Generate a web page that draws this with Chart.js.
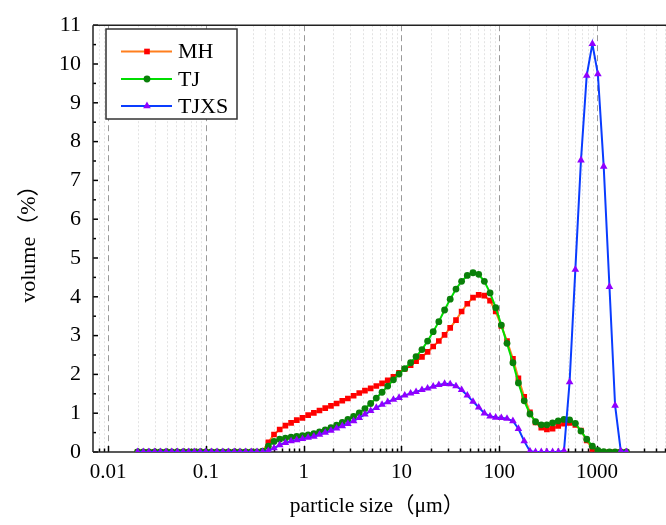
<!DOCTYPE html>
<html>
<head>
<meta charset="utf-8">
<script src="https://cdn.jsdelivr.net/npm/chart.js@4.4.1/dist/chart.umd.min.js"></script>
<style>
  html, body { margin: 0; padding: 0; background: #fff; overflow: hidden; }
  #wrap { width: 690px; height: 525px; }
</style>
</head>
<body>
<div id="wrap"><canvas id="psd" width="690" height="525"></canvas></div>
<script>
// particle size classes (um)
var sizes = [
    0.0200, 0.0229, 0.0261, 0.0299, 0.0342, 0.0391, 0.0447, 0.0511, 0.0584, 0.0667,
    0.0763, 0.0872, 0.0997, 0.114, 0.130, 0.149, 0.170, 0.195, 0.223, 0.255,
    0.291, 0.333, 0.380, 0.435, 0.497, 0.568, 0.650, 0.743, 0.849, 0.971,
    1.11, 1.27, 1.45, 1.66, 1.90, 2.17, 2.48, 2.83, 3.24, 3.70,
    4.23, 4.84, 5.53, 6.33, 7.23, 8.27, 9.45, 10.8, 12.4, 14.1,
    16.2, 18.5, 21.1, 24.1, 27.6, 31.5, 36.1, 41.2, 47.1, 53.9,
    61.6, 70.4, 80.5, 92.0, 105, 120, 138, 157, 180, 206,
    235, 269, 307, 351, 401, 459, 524, 600, 685, 784,
    896, 1020, 1170, 1340, 1530, 1750, 2000
];

var mh = [
    0, 0, 0, 0, 0, 0, 0, 0, 0, 0,
    0, 0, 0, 0, 0, 0, 0, 0, 0, 0,
    0, 0, 0.02, 0.25, 0.45, 0.58, 0.68, 0.75, 0.82, 0.88,
    0.95, 1.01, 1.07, 1.13, 1.19, 1.25, 1.32, 1.38, 1.45, 1.52,
    1.58, 1.64, 1.70, 1.77, 1.85, 1.94, 2.04, 2.14, 2.24, 2.34,
    2.45, 2.58, 2.72, 2.86, 3.02, 3.20, 3.40, 3.62, 3.82, 3.98,
    4.05, 4.03, 3.90, 3.62, 3.25, 2.86, 2.40, 1.90, 1.42, 1.02,
    0.76, 0.63, 0.58, 0.60, 0.67, 0.73, 0.75, 0.70, 0.55, 0.30,
    0.08, 0.01, 0, 0, 0, 0, 0
];

var tj = [
    0, 0, 0, 0, 0, 0, 0, 0, 0, 0,
    0, 0, 0, 0, 0, 0, 0, 0, 0, 0,
    0, 0, 0.02, 0.15, 0.27, 0.33, 0.36, 0.38, 0.40, 0.42,
    0.44, 0.47, 0.52, 0.57, 0.63, 0.69, 0.76, 0.84, 0.92, 1.01,
    1.12, 1.25, 1.39, 1.54, 1.70, 1.86, 2.01, 2.15, 2.30, 2.46,
    2.64, 2.86, 3.10, 3.36, 3.66, 3.94, 4.20, 4.40, 4.55, 4.62,
    4.58, 4.40, 4.10, 3.72, 3.27, 2.80, 2.30, 1.78, 1.32, 0.98,
    0.78, 0.70, 0.70, 0.75, 0.80, 0.84, 0.83, 0.74, 0.54, 0.33,
    0.15, 0.04, 0.01, 0, 0, 0, 0
];

var tjxs = [
    0, 0, 0, 0, 0, 0, 0, 0, 0, 0,
    0, 0, 0, 0, 0, 0, 0, 0, 0, 0,
    0, 0, 0, 0.03, 0.10, 0.18, 0.24, 0.28, 0.31, 0.34,
    0.37, 0.40, 0.45, 0.50, 0.55, 0.61, 0.67, 0.73, 0.80, 0.88,
    0.97, 1.06, 1.14, 1.22, 1.29, 1.35, 1.40, 1.46, 1.51, 1.55,
    1.60, 1.64, 1.69, 1.73, 1.76, 1.75, 1.70, 1.60, 1.46, 1.30,
    1.15, 1.00, 0.92, 0.89, 0.88, 0.86, 0.80, 0.60, 0.28, 0.02,
    0, 0, 0, 0, 0, 0.03, 1.80, 4.70, 7.52, 9.70,
    10.52, 9.74, 7.36, 4.26, 1.20, 0.02, 0
];

var xMajor = [0.01, 0.1, 1, 10, 100, 1000];
var xTickLabels = ['0.01', '0.1', '1', '10', '100', '1000'];
var yMajor = [0, 1, 2, 3, 4, 5, 6, 7, 8, 9, 10, 11];

var X_MIN = 0.007, X_MAX = 8050;
var SERIF = '"Liberation Serif", "Times New Roman", "Noto Sans CJK SC", serif';

var xMinor = [];
[-3, -2, -1, 0, 1, 2, 3].forEach(function (k) {
    for (var m = 2; m <= 9; m++) {
        var v = m * Math.pow(10, k);
        if (v > X_MIN && v < X_MAX) xMinor.push(v);
    }
});
var yMinor = [];
for (var h = 0.5; h < 11; h += 1) yMinor.push(h);

function points(ys) {
    return sizes.map(function (s, i) { return { x: s, y: ys[i] }; });
}

function strokeLine(ctx, x1, y1, x2, y2) {
    ctx.beginPath();
    ctx.moveTo(x1, y1);
    ctx.lineTo(x2, y2);
    ctx.stroke();
}

var framePlugin = {
    id: 'framePlugin',
    beforeDatasetsDraw: function (chart) {
        var ctx = chart.ctx, a = chart.chartArea;
        var xs = chart.scales.x, ys = chart.scales.y;
        ctx.save();
        ctx.lineWidth = 1;
        ctx.strokeStyle = '#e3e3e3';
        ctx.setLineDash([2, 2]);
        xMinor.forEach(function (v) {
            var px = Math.round(xs.getPixelForValue(v)) + 0.5;
            strokeLine(ctx, px, a.top, px, a.bottom);
        });
        ctx.strokeStyle = '#9a9a9a';
        ctx.setLineDash([6, 4]);
        xMajor.forEach(function (v) {
            var px = Math.round(xs.getPixelForValue(v)) + 0.5;
            strokeLine(ctx, px, a.top, px, a.bottom);
        });
        ctx.setLineDash([]);
        ctx.strokeStyle = '#000';
        ctx.lineWidth = 1.5;
        xMajor.forEach(function (v) {
            var px = Math.round(xs.getPixelForValue(v)) + 0.5;
            strokeLine(ctx, px, a.bottom, px, a.bottom - 6);
        });
        xMinor.forEach(function (v) {
            var px = Math.round(xs.getPixelForValue(v)) + 0.5;
            strokeLine(ctx, px, a.bottom, px, a.bottom - 3.5);
        });
        yMajor.forEach(function (v) {
            var py = ys.getPixelForValue(v);
            strokeLine(ctx, a.left, py, a.left + 5, py);
        });
        yMinor.forEach(function (v) {
            var py = ys.getPixelForValue(v);
            strokeLine(ctx, a.left, py, a.left + 3, py);
        });
        ctx.strokeStyle = '#222';
        strokeLine(ctx, a.left, a.top, a.right, a.top);
        strokeLine(ctx, a.left, a.top, a.left, a.bottom);
        strokeLine(ctx, a.left, a.bottom, a.right, a.bottom);
        ctx.restore();
    },
    afterDraw: function (chart) {
        var ctx = chart.ctx;
        ctx.save();
        ctx.fillStyle = '#000';
        ctx.font = '21.5px ' + SERIF;
        ctx.textAlign = 'center';
        ctx.textBaseline = 'middle';
        ctx.fillText('particle size\uff08\u03bcm\uff09', 377, 506);
        ctx.restore();
    }
};

// boxed legend with line + marker samples
var legendPlugin = {
    id: 'legendPlugin',
    afterDatasetsDraw: function (chart) {
        var ctx = chart.ctx;
        var box = { x: 106, y: 29, w: 131, h: 90 };
        var rows = [51.5, 79, 106];
        ctx.save();
        ctx.fillStyle = '#fff';
        ctx.fillRect(box.x, box.y, box.w, box.h);
        ctx.strokeStyle = '#333';
        ctx.lineWidth = 1.5;
        ctx.strokeRect(box.x, box.y, box.w, box.h);
        chart.data.datasets.forEach(function (ds, i) {
            var y = rows[i];
            ctx.strokeStyle = ds.borderColor;
            ctx.lineWidth = ds.borderWidth;
            strokeLine(ctx, 121, y, 172, y);
            ctx.fillStyle = ds.pointBackgroundColor;
            ctx.strokeStyle = ds.pointBackgroundColor;
            Chart.helpers.drawPoint(ctx, { pointStyle: ds.pointStyle, radius: ds.pointRadius, rotation: 0, borderWidth: 0 }, 147, y);
            ctx.fillStyle = '#000';
            ctx.font = '22px ' + SERIF;
            ctx.textAlign = 'left';
            ctx.textBaseline = 'middle';
            ctx.fillText(ds.label, 178, y + 1);
        });
        ctx.restore();
    }
};

new Chart(document.getElementById('psd'), {
    type: 'line',
    data: {
        datasets: [
            { label: 'MH', data: points(mh), borderColor: '#ff7f1e', borderWidth: 2, pointStyle: 'rect', pointRadius: 4,
              pointBackgroundColor: '#ff0000', pointBorderWidth: 0, order: 3 },
            { label: 'TJ', data: points(tj), borderColor: '#00dd00', borderWidth: 2, pointStyle: 'circle', pointRadius: 3.4,
              pointBackgroundColor: '#0a800a', pointBorderWidth: 0, order: 2 },
            { label: 'TJXS', data: points(tjxs), borderColor: '#0a3cff', borderWidth: 2, pointStyle: 'triangle', pointRadius: 4.4,
              pointBackgroundColor: '#9000ff', pointBorderWidth: 0, order: 1 }
        ]
    },
    options: {
        responsive: false, animation: false, events: [],
        layout: { padding: { left: 0, top: 20, right: 3, bottom: 0 } },
        elements: { line: { tension: 0 } },
        plugins: { legend: { display: false }, tooltip: { enabled: false } },
        scales: {
            x: {
                type: 'logarithmic', min: X_MIN, max: X_MAX, bounds: 'data',
                grid: { display: false, drawTicks: false }, border: { display: false },
                afterBuildTicks: function (s) { s.ticks = xMajor.map(function (v) { return { value: v }; }); },
                afterFit: function (s) { s.height = 73; },
                ticks: {
                    autoSkip: false, maxRotation: 0, padding: 8, color: '#000',
                    font: { family: SERIF, size: 21 },
                    callback: function (v) { return xTickLabels[xMajor.indexOf(v)]; }
                }
            },
            y: {
                type: 'linear', min: 0, max: 11, bounds: 'data',
                grid: { display: false, drawTicks: false }, border: { display: false },
                afterBuildTicks: function (s) { s.ticks = yMajor.map(function (v) { return { value: v }; }); },
                afterFit: function (s) { s.width = 93; },
                ticks: { padding: 12, color: '#000', font: { family: SERIF, size: 22 } },
                title: { display: true, text: 'volume\uff08%\uff09', color: '#000', padding: { top: 16, bottom: 0 },
                         font: { family: SERIF, size: 22 } }
            }
        }
    },
    plugins: [framePlugin, legendPlugin]
});
</script>
</body>
</html>
